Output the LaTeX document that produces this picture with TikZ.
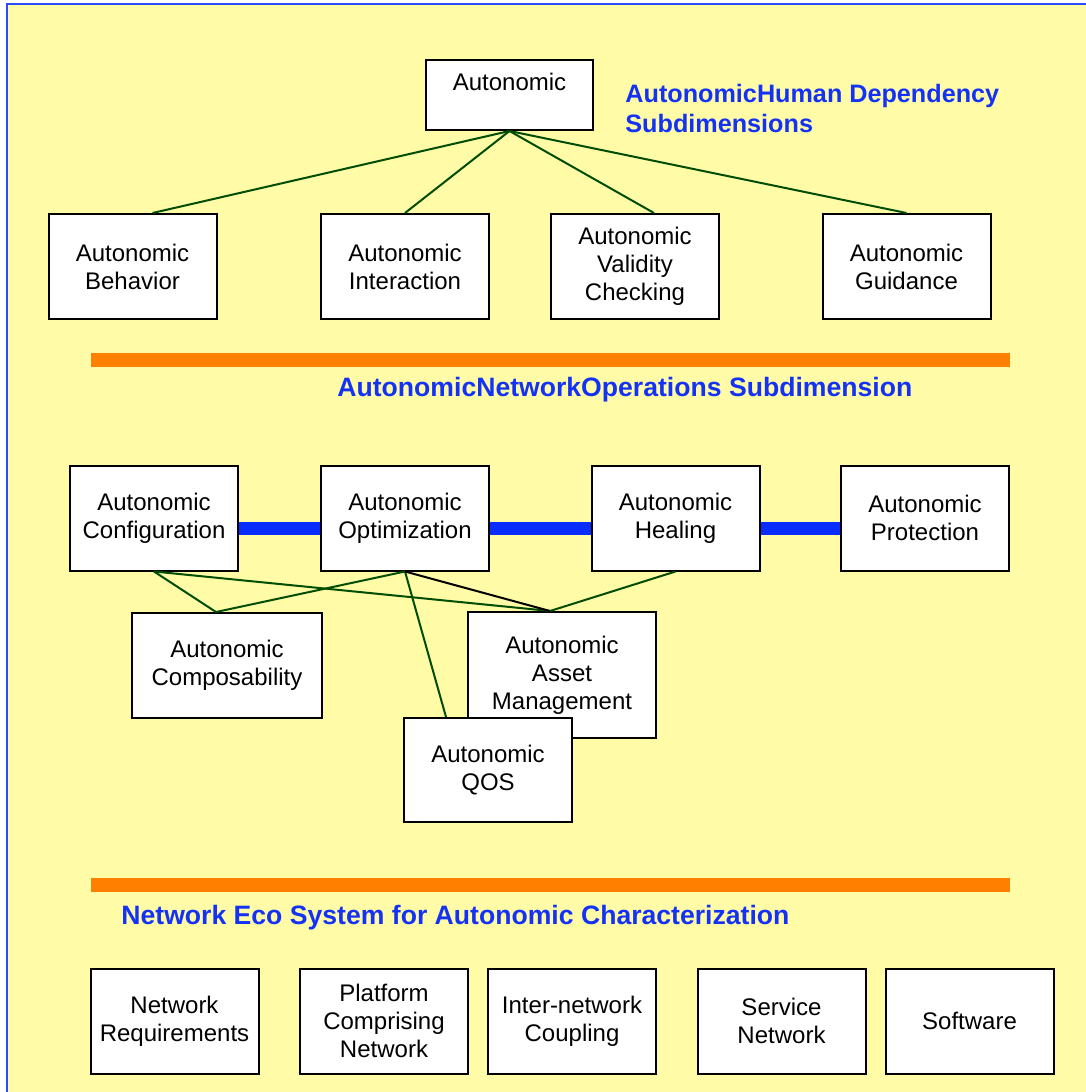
\documentclass[tikz,border=0pt]{standalone}
\usepackage{fontspec}
\setmainfont{Liberation Sans}
\usepackage{xcolor}
\usepackage{tikz}
\usetikzlibrary{positioning}

\definecolor{paleyellow}{HTML}{FFFBA6}
\definecolor{frameblue}{HTML}{2A4BFF}
\definecolor{titleblue}{HTML}{1432F5}
\definecolor{chainblue}{HTML}{0A2DFF}
\definecolor{bandorange}{HTML}{FF7F00}
\definecolor{linkgreen}{HTML}{004D00}

\begin{document}
\begin{tikzpicture}[x=0.5pt, y=-0.5pt,
    box/.style={draw=black, fill=white, line width=1pt, minimum width=84pt,
        minimum height=52.5pt, align=center, inner sep=2pt,
        font=\fontsize{12}{14}\selectfont},
    link/.style={draw=linkgreen, line width=1pt},
    chain/.style={draw=chainblue, line width=6.5pt},
    title/.style={text=titleblue, anchor=west, align=left, inner sep=0pt,
        font=\bfseries\fontsize{13.3}{15}\selectfont}]
    % 1. Nền và khung
    \useasboundingbox (0,0) rectangle (1086,1092);
    \fill[paleyellow] (6.5,3.7) rectangle (1086,1092);
    \draw[frameblue, line width=1pt] (6.5,1092) -- (6.5,3.7) -- (1086,3.7);

    % 2. Human dependency
    \node[box, minimum width=83.5pt, minimum height=35pt, inner ysep=0pt,
        text height=15pt, text depth=20pt] (auto) at (509.5,95) {Autonomic};
    \node[title, font=\bfseries\fontsize{12.6}{15}\selectfont] (humtitle) at (625,108)
        {AutonomicHuman Dependency\\Subdimensions};
    \node[box] (behav) at (132.5,266.5) {Autonomic\\Behavior};
    \node[box] (inter) at (405,266.5) {Autonomic\\Interaction};
    \node[box] (valid) at (635,266.5) {Autonomic\\Validity\\Checking};
    \node[box] (guide) at (906.5,266.5) {Autonomic\\Guidance};
    \draw[link] (auto.south) -- ([xshift=10pt]behav.north);
    \draw[link] (auto.south) -- (inter.north);
    \draw[link] (auto.south) -- ([xshift=9.5pt]valid.north);
    \draw[link] (auto.south) -- (guide.north);

    % 3. Network operations
    \fill[bandorange] (91,353) rectangle (1010,367);
    \node[title] (optitle) at (337,390) {AutonomicNetworkOperations Subdimension};
    \node[box] (config) at (154,518) {Autonomic\\Configuration};
    \node[box] (optim) at (405,518) {Autonomic\\Optimization};
    \node[box] (heal) at (675.5,518) {Autonomic\\Healing};
    \node[box] (protect) at (925,518) {Autonomic\\Protection};
    \draw[chain] ([yshift=-5pt]config.east) -- ([yshift=-5pt]optim.west);
    \draw[chain] ([yshift=-5pt]optim.east) -- ([yshift=-5pt]heal.west);
    \draw[chain] ([yshift=-5pt]heal.east) -- ([yshift=-5pt]protect.west);
    \node[box, minimum width=95pt] (compose) at (227,665.5) {Autonomic\\Composability};
    \node[box, minimum width=94pt, minimum height=63pt] (asset) at (562,675)
        {Autonomic\\Asset\\Management};
    \node[box, minimum height=52pt] (qos) at (488,770) {Autonomic\\QOS};
    \draw[link] (config.south) -- ([xshift=-5.5pt]compose.north);
    \draw[link] (config.south) -- ([xshift=-6pt]asset.north);
    \draw[link] (optim.south) -- ([xshift=-5.5pt]compose.north);
    \draw[link] (optim.south) -- ([xshift=-21pt]qos.north);
    \draw[line width=1pt] (optim.south) -- ([xshift=-6pt]asset.north);
    \draw[link] (heal.south) -- ([xshift=-6pt]asset.north);

    % 4. Network eco system
    \fill[bandorange] (91,878) rectangle (1010,892);
    \node[title] (ecotitle) at (121,918) {Network Eco System for Autonomic Characterization};
    \node[box] (netreq) at (174.5,1021) {Network\\Requirements};
    \node[box] (platform) at (384,1021) {Platform\\Comprising\\Network};
    \node[box] (coupling) at (572,1021) {Inter-network\\Coupling};
    \node[box] (service) at (781.5,1021) {Service\\Network};
    \node[box] (software) at (969.5,1021) {Software};
\end{tikzpicture}
\end{document}
